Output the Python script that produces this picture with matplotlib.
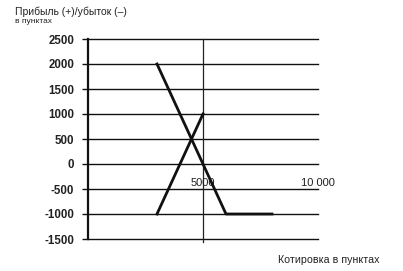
import matplotlib
matplotlib.use("Agg")
import matplotlib.pyplot as plt

plt.rcParams['font.family'] = ['Liberation Sans', 'DejaVu Sans']

# Data
short_x = [3000, 6000, 8000]
short_y = [2000, -1000, -1000]
long_x = [3000, 5000]
long_y = [-1000, 1000]
y_ticks = [-1500, -1000, -500, 0, 500, 1000, 1500, 2000, 2500]
x_ticks = [5000, 10000]
x_tick_labels = ["5000", "10 000"]

W, H = 403, 271
fig = plt.figure(figsize=(W / 100, H / 100), dpi=100)
ax = fig.add_axes([88 / W, 1 - 239 / H, (318 - 88) / W, (239 - 39) / H])

ax.set_xlim(0, 10000)
ax.set_ylim(-1500, 2500)

for v in y_ticks:
    ax.axhline(v, color='#111111', lw=1.0, zorder=1, clip_on=False)
ax.axvline(5000, color='#222222', lw=0.9, zorder=1, ymin=-0.015, ymax=1.0, clip_on=False)

ax.plot(short_x, short_y, color='#111111', lw=2.0, zorder=3)
ax.plot(long_x, long_y, color='#111111', lw=2.0, zorder=3)

ax.set_yticks(y_ticks)
ax.set_yticklabels([str(v) for v in y_ticks], fontsize=8.3, fontweight='bold', color='#222222')
ax.tick_params(axis='y', length=4, width=1.0, color='#111111', pad=6)

ax.spines['bottom'].set_position(('data', 0))
ax.spines['bottom'].set_visible(False)
ax.spines['top'].set_visible(False)
ax.spines['right'].set_visible(False)
ax.spines['left'].set_linewidth(1.6)
ax.spines['left'].set_color('#111111')

ax.set_xticks(x_ticks)
ax.set_xticklabels(x_tick_labels, fontsize=8, color='#222222')
ax.tick_params(axis='x', length=0, pad=10)
for lbl in ax.get_xticklabels():
    lbl.set_horizontalalignment('center')

fig.text(15 / W, 1 - 12 / H, "Прибыль (+)/убыток (–)", fontsize=7.5, ha='left', va='center', color='#222222')
fig.text(15 / W, 1 - 21.5 / H, "в пунктах", fontsize=6, ha='left', va='center', color='#222222')
fig.text(329 / W, 1 - 260 / H, "Котировка в пунктах", fontsize=7.7, ha='center', va='center', color='#222222')

fig.savefig("out.png", dpi=100)
